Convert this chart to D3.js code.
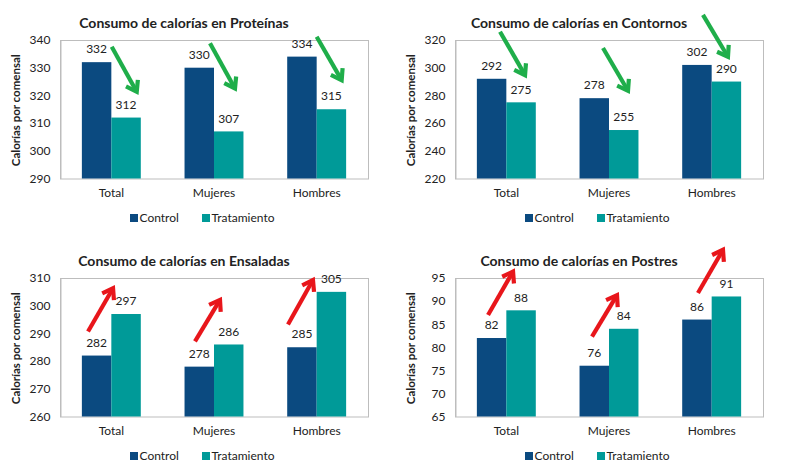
<!DOCTYPE html>
<html><head><meta charset="utf-8">
<script src="https://cdn.jsdelivr.net/npm/d3@7"></script>
<style>body{margin:0;background:#fff}svg{display:block}text{font-family:Lato,"Open Sans",sans-serif;fill:#222}</style>
</head><body>
<script>
const categories = ["Total", "Mujeres", "Hombres"];
const seriesNames = ["Control", "Tratamiento"];

const titles = ["Consumo de calorías en Proteínas", "Consumo de calorías en Contornos",
                "Consumo de calorías en Ensaladas", "Consumo de calorías en Postres"];

const proteinasControl = [332, 330, 334];
const proteinasTratamiento = [312, 307, 315];
const contornosControl = [292, 278, 302];
const contornosTratamiento = [275, 255, 290];
const ensaladasControl = [282, 278, 285];
const ensaladasTratamiento = [297, 286, 305];
const postresControl = [82, 76, 86];
const postresTratamiento = [88, 84, 91];

const proteinasTicks = [290, 300, 310, 320, 330, 340];
const contornosTicks = [220, 240, 260, 280, 300, 320];
const ensaladasTicks = [260, 270, 280, 290, 300, 310];
const postresTicks = [65, 70, 75, 80, 85, 90, 95];

// trend arrows: [category, tail value, tip value] (down = green, up = red)
const proteinasArrows = [[0, 337.6, 321.3], [1, 338.8, 322.5], [2, 341.2, 325.5]];
const contornosArrows = [[0, 326, 294.6], [1, 314.2, 283.3], [2, 338.1, 307.9]];
const ensaladasArrows = [[0, 290.7, 306.3], [1, 287.1, 302.1], [2, 293.2, 309.3]];
const postresArrows = [[0, 87.0, 96.4], [1, 82.3, 91.3], [2, 91.75, 101.1]];
const arrowTailDx = [[0.4, -4, 0], [-6.3, -6, -8.7], [-23.3, -19, -28.7], [-18.3, -17, -13.7]];

const colors = ["#0b4a80", "#009a98"];

const panels = [
  {title: titles[0], vals: [proteinasControl, proteinasTratamiento], ticks: proteinasTicks, arrows: proteinasArrows, dx: arrowTailDx[0], ox: 0, oy: 0, arrowColor: "#1fae4a"},
  {title: titles[1], vals: [contornosControl, contornosTratamiento], ticks: contornosTicks, arrows: contornosArrows, dx: arrowTailDx[1], ox: 395, oy: 0, arrowColor: "#1fae4a"},
  {title: titles[2], vals: [ensaladasControl, ensaladasTratamiento], ticks: ensaladasTicks, arrows: ensaladasArrows, dx: arrowTailDx[2], ox: 0, oy: 238, arrowColor: "#e8161b"},
  {title: titles[3], vals: [postresControl, postresTratamiento], ticks: postresTicks, arrows: postresArrows, dx: arrowTailDx[3], ox: 395, oy: 238, arrowColor: "#e8161b"}
];

const svg = d3.select("body").append("svg").attr("width", 790).attr("height", 471);
const L = 60, R = 368, T = 40, B = 178.5;

panels.forEach(p => {
  const g = svg.append("g").attr("transform", `translate(${p.ox},${p.oy})`);
  const x = d3.scaleBand().domain(categories).range([L, R]).paddingInner(0.426).paddingOuter(0.213);
  const xs = d3.scaleBand().domain(seriesNames).range([0, x.bandwidth()]);
  const y = d3.scaleLinear().domain(d3.extent(p.ticks)).range([B, T]);

  g.append("rect").attr("x", L + 0.5).attr("y", T + 0.5).attr("width", R - L).attr("height", B - T)
    .attr("fill", "none").attr("stroke", "#bdbdbd").attr("stroke-width", 1);

  const yAxis = g.append("g").attr("transform", `translate(${L + 0.5},0)`)
    .call(d3.axisLeft(y).tickValues(p.ticks).tickSize(0).tickPadding(10));
  yAxis.select(".domain").attr("stroke", "#bdbdbd");
  yAxis.selectAll("text").style("font-family", "Lato").style("font-size", "12px").attr("fill", "#222");

  const xAxis = g.append("g").attr("transform", `translate(0,${B})`)
    .call(d3.axisBottom(x).tickSize(0).tickPadding(10));
  xAxis.select(".domain").remove();
  xAxis.selectAll("text").style("font-family", "Lato").style("font-size", "12px").attr("fill", "#222");

  seriesNames.forEach((s, si) => {
    const vals = p.vals[si];
    g.selectAll(null).data(categories).enter().append("rect")
      .attr("x", c => x(c) + xs(s)).attr("width", xs.bandwidth())
      .attr("y", (c, i) => y(vals[i])).attr("height", (c, i) => B - y(vals[i]))
      .attr("fill", colors[si]);
    g.selectAll(null).data(categories).enter().append("text")
      .attr("x", c => x(c) + xs(s) + xs.bandwidth() / 2)
      .attr("y", (c, i) => y(vals[i]) - 13).attr("dy", "0.35em")
      .attr("text-anchor", "middle").style("font-size", "12px").text((c, i) => vals[i]);
  });

  g.append("text").attr("x", 184).attr("y", 23).attr("dy", "0.35em").attr("text-anchor", "middle")
    .style("font-size", "14px").style("font-weight", "bold").attr("fill", "#000").text(p.title);

  g.append("text").attr("transform", `translate(15.5,${(T + B) / 2 + 1}) rotate(-90)`).attr("dy", "0.35em")
    .attr("text-anchor", "middle").style("font-size", "11.5px").style("font-weight", "bold").attr("fill", "#000")
    .text("Calorías por comensal");

  // legend
  const lg = g.append("g").attr("transform", "translate(130,218)");
  const legX = [0, 72];
  seriesNames.forEach((s, si) => {
    lg.append("rect").attr("x", legX[si]).attr("y", -4).attr("width", 8).attr("height", 8).attr("fill", colors[si]);
    lg.append("text").attr("x", legX[si] + 9.5).attr("y", 0).attr("dy", "0.35em").style("font-size", "12px").text(s);
  });

  // arrows
  p.arrows.forEach((a, i) => {
    const cx = x(categories[a[0]]) + x.bandwidth() / 2;
    const x1 = cx + p.dx[i], y1 = y(a[1]);
    const x2 = x1 + 25, y2 = y(a[2]);
    const ang = Math.atan2(y2 - y1, x2 - x1);
    const hl = 12, ha = 0.6;
    const h1 = [x2 - hl * Math.cos(ang - ha), y2 - hl * Math.sin(ang - ha)];
    const h2 = [x2 - hl * Math.cos(ang + ha), y2 - hl * Math.sin(ang + ha)];
    g.append("line").attr("x1", x1).attr("y1", y1).attr("x2", x2 - 1.5 * Math.cos(ang)).attr("y2", y2 - 1.5 * Math.sin(ang))
      .attr("stroke", p.arrowColor).attr("stroke-width", 4.2).attr("stroke-linecap", "butt");
    g.append("path").attr("d", `M${h1[0]},${h1[1]}L${x2},${y2}L${h2[0]},${h2[1]}`)
      .attr("fill", "none").attr("stroke", p.arrowColor).attr("stroke-width", 4.2)
      .attr("stroke-linejoin", "miter").attr("stroke-linecap", "butt");
  });
});
</script>
</body></html>
